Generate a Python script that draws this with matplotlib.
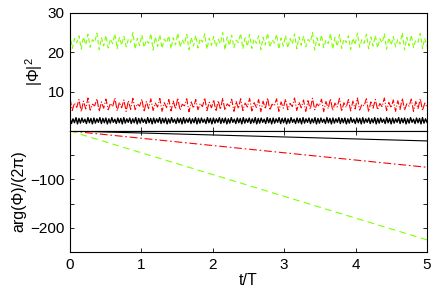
import matplotlib
matplotlib.use("Agg")
import matplotlib.pyplot as plt
import numpy as np

plt.rcParams['font.family'] = ['Liberation Sans', 'DejaVu Sans']
plt.rcParams['mathtext.fontset'] = 'custom'
plt.rcParams['mathtext.rm'] = 'Liberation Sans'
plt.rcParams['mathtext.it'] = 'Liberation Sans'

# |Phi|^2 series (sampled values)
green_amp = [
24.8, 21.0, 23.5, 22.4, 24.2, 20.8, 23.9, 21.9, 24.6, 21.3, 23.2, 22.6, 24.9, 20.7, 23.7, 21.6, 24.3, 21.1, 23.4, 22.2,
24.7, 20.9, 23.8, 21.8, 24.1, 21.4, 23.3, 22.5, 25.0, 20.8, 23.6, 21.7, 24.4, 21.2, 23.1, 22.3, 24.8, 20.6, 23.9, 21.5,
24.5, 21.0, 23.4, 22.4, 24.2, 20.9, 23.7, 21.9, 24.9, 21.3, 23.2, 22.1, 24.6, 20.7, 23.8, 21.6, 24.3, 21.1, 23.5, 22.6,
24.7, 20.8, 23.6, 21.8, 24.0, 21.4, 23.3, 22.2, 25.0, 20.6, 23.9, 21.7, 24.4, 21.2, 23.1, 22.5, 24.8, 20.9, 23.7, 21.5,
24.5, 21.0, 23.4, 22.3, 24.2, 20.7, 23.8, 21.9, 24.9, 21.3, 23.2, 22.4, 24.6, 20.8, 23.6, 21.6, 24.3, 21.1, 23.5, 22.1,
24.7, 20.9, 23.9, 21.8, 24.1, 21.4, 23.3, 22.6, 25.0, 20.6, 23.7, 21.7, 24.4, 21.2, 23.1, 22.2, 24.8, 20.8, 23.8, 21.5,
24.5, 21.0, 23.4, 22.5, 24.2, 20.7, 23.6, 21.9, 24.9, 21.3, 23.2, 22.3, 24.6, 20.9, 23.9, 21.6, 24.3, 21.1, 23.5, 22.4,
24.7, 20.8, 23.7, 21.8, 24.0, 21.4, 23.3, 22.1, 25.0, 20.6, 23.8, 21.7, 24.4, 21.2, 23.1, 22.6, 24.8, 20.9, 23.6, 21.5]

red_amp = [
8.3, 5.2, 7.1, 6.0, 8.0, 4.9, 7.6, 5.6, 8.4, 5.3, 6.8, 6.4, 8.2, 5.0, 7.4, 5.8, 8.1, 5.4, 7.0, 6.2,
8.4, 5.1, 7.3, 5.9, 7.9, 5.0, 7.7, 5.5, 8.3, 5.4, 6.9, 6.3, 8.1, 4.9, 7.5, 5.7, 8.2, 5.2, 7.1, 6.1,
8.3, 5.0, 7.2, 6.0, 8.0, 5.1, 7.6, 5.6, 8.4, 5.3, 6.8, 6.4, 8.2, 4.9, 7.4, 5.8, 8.0, 5.4, 7.0, 6.2,
8.4, 5.2, 7.3, 5.9, 7.9, 5.0, 7.7, 5.5, 8.3, 5.3, 6.9, 6.3, 8.1, 5.0, 7.5, 5.7, 8.2, 5.2, 7.1, 6.1,
8.3, 5.1, 7.2, 6.0, 8.0, 4.9, 7.6, 5.6, 8.4, 5.3, 6.8, 6.4, 8.2, 5.0, 7.4, 5.8, 8.1, 5.4, 7.0, 6.2,
8.4, 5.2, 7.3, 5.9, 7.9, 5.0, 7.7, 5.5, 8.3, 5.4, 6.9, 6.3, 8.1, 4.9, 7.5, 5.7, 8.2, 5.2, 7.1, 6.1,
8.3, 5.0, 7.2, 6.0, 8.0, 5.1, 7.6, 5.6, 8.4, 5.3, 6.8, 6.4, 8.2, 4.9, 7.4, 5.8, 8.0, 5.4, 7.0, 6.2,
8.4, 5.2, 7.3, 5.9, 7.9, 5.0, 7.7, 5.5, 8.3, 5.3, 6.9, 6.3, 8.1, 5.0, 7.5, 5.7, 8.2, 5.2, 7.1, 6.1]

black_amp = [
3.3, 1.9, 3.1, 2.1, 3.4, 1.8, 3.2, 2.0, 3.3, 2.2, 3.0, 1.9, 3.4, 2.1, 3.2, 1.8, 3.3, 2.0, 3.1, 2.2,
3.4, 1.9, 3.2, 2.1, 3.3, 1.8, 3.1, 2.0, 3.4, 2.2, 3.0, 1.9, 3.3, 2.1, 3.2, 1.8, 3.4, 2.0, 3.1, 2.2,
3.3, 1.9, 3.1, 2.1, 3.4, 1.8, 3.2, 2.0, 3.3, 2.2, 3.0, 1.9, 3.4, 2.1, 3.2, 1.8, 3.3, 2.0, 3.1, 2.2,
3.4, 1.9, 3.2, 2.1, 3.3, 1.8, 3.1, 2.0, 3.4, 2.2, 3.0, 1.9, 3.3, 2.1, 3.2, 1.8, 3.4, 2.0, 3.1, 2.2,
3.3, 1.9, 3.1, 2.1, 3.4, 1.8, 3.2, 2.0, 3.3, 2.2, 3.0, 1.9, 3.4, 2.1, 3.2, 1.8, 3.3, 2.0, 3.1, 2.2,
3.4, 1.9, 3.2, 2.1, 3.3, 1.8, 3.1, 2.0, 3.4, 2.2, 3.0, 1.9, 3.3, 2.1, 3.2, 1.8, 3.4, 2.0, 3.1, 2.2,
3.3, 1.9, 3.1, 2.1, 3.4, 1.8, 3.2, 2.0, 3.3, 2.2, 3.0, 1.9, 3.4, 2.1, 3.2, 1.8, 3.3, 2.0, 3.1, 2.2,
3.4, 1.9, 3.2, 2.1, 3.3, 1.8, 3.1, 2.0, 3.4, 2.2, 3.0, 1.9, 3.3, 2.1, 3.2, 1.8, 3.4, 2.0, 3.1, 2.2,
3.3, 1.9, 3.1, 2.1, 3.4, 1.8, 3.2, 2.0, 3.3, 2.2, 3.0, 1.9, 3.4, 2.1, 3.2, 1.8, 3.3, 2.0, 3.1, 2.2,
3.4, 1.9, 3.2, 2.1, 3.3, 1.8, 3.1, 2.0, 3.4, 2.2, 3.0, 1.9, 3.3, 2.1, 3.2, 1.8, 3.4, 2.0, 3.1, 2.2,
3.3, 1.9, 3.1, 2.1, 3.4, 1.8, 3.2, 2.0, 3.3, 2.2, 3.0, 1.9, 3.4, 2.1, 3.2, 1.8, 3.3, 2.0, 3.1, 2.2,
3.4, 1.9, 3.2, 2.1, 3.3, 1.8, 3.1, 2.0, 3.4, 2.2, 3.0, 1.9, 3.3, 2.1, 3.2, 1.8, 3.4, 2.0, 3.1, 2.2]

# phase series at t/T = 0..5
t_phase = [0, 1, 2, 3, 4, 5]
black_phase = [0, -4.1, -8.2, -12.3, -16.4, -20.5]
red_phase = [0, -15, -30, -45, -60, -75]
green_phase = [0, -45, -90, -135, -180, -225]

xticks = [0, 1, 2, 3, 4, 5]
top_yticks = [10, 20, 30]
bot_yticks = [-200, -150, -100, -50]
bot_ylabels = ['\u2212200', '', '\u2212100', '']

GREEN = '#80ff00'
RED = '#ff0000'

fig = plt.figure(figsize=(4.36, 2.95), dpi=100)
W, H = 436, 295
l, r = 70 / W, 427 / W
ax1 = fig.add_axes([l, 1 - 131 / H, r - l, (131 - 13) / H])
ax2 = fig.add_axes([l, 1 - 252 / H, r - l, (252 - 131) / H])

tg = np.linspace(0, 5, len(green_amp))
tr = np.linspace(0, 5, len(red_amp))
tb = np.linspace(0, 5, len(black_amp))
ax1.plot(tg, green_amp, color=GREEN, ls='--', lw=0.8, dashes=(4, 2.5))
ax1.plot(tr, red_amp, color=RED, ls='-.', lw=0.8)
ax1.plot(tb, black_amp, color='black', ls='-', lw=1.0)
ax1.set_xlim(0, 5)
ax1.set_ylim(0, 30)
ax1.set_yticks(top_yticks)
ax1.set_xticks(xticks)
ax1.set_xticklabels([])
ax1.set_ylabel('|\u03a6|$^2$', fontsize=11.5, labelpad=2)

ax2.plot(t_phase, black_phase, color='black', ls='-', lw=0.8)
ax2.plot(t_phase, red_phase, color=RED, ls='-.', lw=0.8, dashes=(7, 2.5, 1.5, 2.5))
ax2.plot(t_phase, green_phase, color=GREEN, ls='--', lw=0.8, dashes=(6, 4))
ax2.set_xlim(0, 5)
ax2.set_ylim(-250, 0)
ax2.set_yticks(bot_yticks)
ax2.set_yticklabels(bot_ylabels)
ax2.set_xticks(xticks)
ax2.set_xlabel('t/T', fontsize=11.5, labelpad=1)
ax2.set_ylabel('arg(\u03a6)/(2\u03c0)', fontsize=11.5, labelpad=3)

for ax in (ax1, ax2):
    ax.tick_params(direction='in', top=True, right=True, labelsize=11,
                   length=3, width=0.6, pad=4)
    for s in ax.spines.values():
        s.set_linewidth(0.8)

fig.savefig('out.png', dpi=100)
